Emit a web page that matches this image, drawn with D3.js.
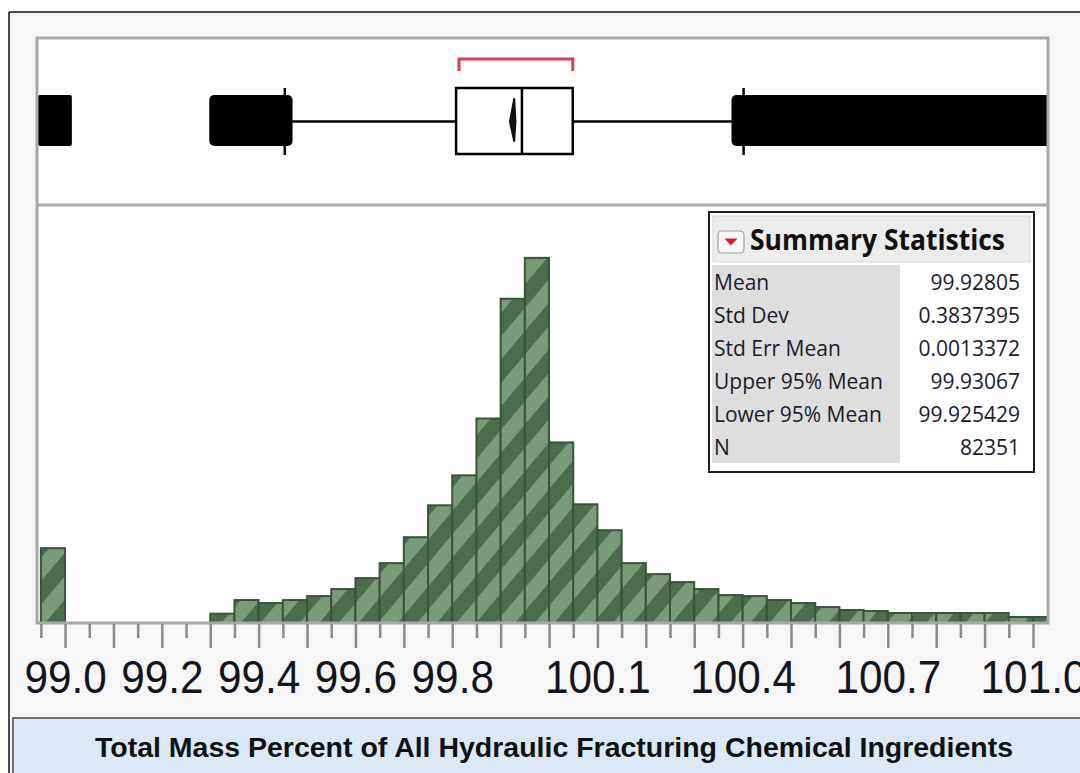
<!DOCTYPE html>
<html>
<head>
<meta charset="utf-8">
<script src="https://cdn.jsdelivr.net/npm/d3@7"></script>
<style>
  html, body { margin: 0; padding: 0; background: #ffffff; }
  svg { display: block; }
</style>
</head>
<body>
<svg id="chart" width="1080" height="773"></svg>
<script>
// Histogram bins (lower edge, width 0.05) and their counts
const binLower = [98.95, 99.30, 99.35, 99.40, 99.45, 99.50, 99.55, 99.60, 99.65, 99.70,
                  99.75, 99.80, 99.85, 99.90, 99.95, 100.00, 100.05, 100.10, 100.15, 100.20,
                  100.25, 100.30, 100.35, 100.40, 100.45, 100.50, 100.55, 100.60, 100.65, 100.70,
                  100.75, 100.80, 100.85, 100.90, 100.95, 101.00];
const binCounts = [2250, 280, 690, 600, 690, 810, 1020, 1350, 1800, 2580,
                   3540, 4440, 6150, 9750, 10980, 5430, 3570, 2790, 1800, 1470,
                   1230, 1020, 840, 810, 690, 600, 480, 390, 360, 300,
                   300, 300, 300, 300, 180, 180];
const binWidth = 0.05;

// Outlier box plot summary
const quartiles = [99.808, 99.944, 100.049];       // Q1, median, Q3
const whiskers = [99.454, 100.402];
const shortestHalf = [99.814, 100.049];
const outlierRanges = [[98.944, 99.014], [99.298, 99.470], [100.377, 101.04]];

// Summary statistics table
const statNames = ["Mean", "Std Dev", "Std Err Mean", "Upper 95% Mean", "Lower 95% Mean", "N"];
const statValues = ["99.92805", "0.3837395", "0.0013372", "99.93067", "99.925429", "82351"];
const meanValue = 99.92805, upper95 = 99.93067, lower95 = 99.925429;

// Axis ticks
const majorTicks = [99.0, 99.1, 99.2, 99.3, 99.4, 99.5, 99.6, 99.7, 99.8, 99.9, 100.0,
                    100.1, 100.2, 100.3, 100.4, 100.5, 100.6, 100.7, 100.8, 100.9, 101.0];
const minorTicks = [98.95, 99.05, 99.15, 99.25, 99.35, 99.45, 99.55, 99.65, 99.75, 99.85, 99.95,
                    100.05, 100.15, 100.25, 100.35, 100.45, 100.55, 100.65, 100.75, 100.85, 100.95];
const tickLabels = ["99.0", "99.2", "99.4", "99.6", "99.8", "100.1", "100.4", "100.7", "101.0"];

const title = "Total Mass Percent of All Hydraulic Fracturing Chemical Ingredients";

// ---- layout ----
const frame = { left: 37, right: 1048, top: 38, bottom: 623 };
const splitY = 205;
const svg = d3.select("#chart");

const x = d3.scaleLinear().domain([98.942, 101.031]).range([frame.left, frame.right]);
const y = d3.scaleLinear().domain([0, 12570]).range([frame.bottom, splitY]);

const defs = svg.append("defs");
const pat = defs.append("pattern")
  .attr("id", "stripes")
  .attr("patternUnits", "userSpaceOnUse")
  .attr("width", 30).attr("height", 30)
  .attr("patternTransform", "rotate(-50)");
pat.append("rect").attr("width", 30).attr("height", 30).attr("fill", "#4d6b4d");
pat.append("rect").attr("width", 30).attr("height", 15).attr("fill", "#7a9a79");

defs.append("clipPath").attr("id", "plotClip")
  .append("rect")
  .attr("x", frame.left).attr("y", frame.top)
  .attr("width", frame.right - frame.left).attr("height", frame.bottom - frame.top);

// window background and outer border
svg.append("rect").attr("x", 10).attr("y", 13).attr("width", 1070).attr("height", 760).attr("fill", "#f6f6f6");
svg.append("line").attr("x1", 9).attr("x2", 1080).attr("y1", 12).attr("y2", 12).attr("stroke", "#111").attr("stroke-width", 1.5);
svg.append("line").attr("x1", 9).attr("x2", 9).attr("y1", 12).attr("y2", 773).attr("stroke", "#111").attr("stroke-width", 1.5);

// plot area
svg.append("rect")
  .attr("x", frame.left).attr("y", frame.top)
  .attr("width", frame.right - frame.left).attr("height", frame.bottom - frame.top)
  .attr("fill", "#ffffff");

// ---- histogram bars ----
svg.append("g").attr("clip-path", "url(#plotClip)")
  .selectAll("rect")
  .data(binLower.map((lo, i) => ({ lo, count: binCounts[i] })))
  .join("rect")
  .attr("x", d => x(d.lo))
  .attr("width", d => x(d.lo + binWidth) - x(d.lo))
  .attr("y", d => y(d.count))
  .attr("height", d => y(0) - y(d.count))
  .attr("fill", "url(#stripes)")
  .attr("stroke", "#3b523b")
  .attr("stroke-width", 2);

// ---- outlier box plot ----
const bp = svg.append("g").attr("clip-path", "url(#plotClip)");
const boxTop = 88, boxBot = 154, boxMid = 121.5;

bp.selectAll("rect.outliers")
  .data(outlierRanges)
  .join("rect")
  .attr("class", "outliers")
  .attr("x", d => x(d[0]))
  .attr("width", d => x(d[1]) - x(d[0]))
  .attr("y", 95).attr("height", 51)
  .attr("rx", (d, i) => i === 0 ? 2 : 5)
  .attr("fill", "#000");

bp.append("line")
  .attr("x1", x(whiskers[0])).attr("x2", x(quartiles[0]))
  .attr("y1", boxMid).attr("y2", boxMid)
  .attr("stroke", "#000").attr("stroke-width", 2.5);
bp.append("line")
  .attr("x1", x(quartiles[2])).attr("x2", x(whiskers[1]))
  .attr("y1", boxMid).attr("y2", boxMid)
  .attr("stroke", "#000").attr("stroke-width", 2.5);
bp.selectAll("line.wend")
  .data(whiskers)
  .join("line")
  .attr("class", "wend")
  .attr("x1", d => x(d)).attr("x2", d => x(d))
  .attr("y1", boxTop).attr("y2", boxBot + 1)
  .attr("stroke", "#000").attr("stroke-width", 2.5);

bp.append("rect")
  .attr("x", x(quartiles[0])).attr("width", x(quartiles[2]) - x(quartiles[0]))
  .attr("y", boxTop).attr("height", boxBot - boxTop)
  .attr("fill", "#fff").attr("stroke", "#000").attr("stroke-width", 2.5);
bp.append("line")
  .attr("x1", x(quartiles[1])).attr("x2", x(quartiles[1]))
  .attr("y1", boxTop).attr("y2", boxBot)
  .attr("stroke", "#000").attr("stroke-width", 2.5);

// mean confidence diamond
bp.append("polygon")
  .attr("points", [[x(lower95) - 3, boxMid], [x(meanValue), 99], [x(upper95), boxMid], [x(meanValue), 141]]
    .map(p => p.join(",")).join(" "))
  .attr("fill", "#111").attr("stroke", "#111").attr("stroke-width", 2).attr("stroke-linejoin", "round");

// shortest half bracket
bp.append("path")
  .attr("d", `M${x(shortestHalf[0])},71 V59 H${x(shortestHalf[1])} V71`)
  .attr("fill", "none").attr("stroke", "#e23a50").attr("stroke-width", 3);

// panel frame and divider
svg.append("rect")
  .attr("x", frame.left).attr("y", frame.top)
  .attr("width", frame.right - frame.left).attr("height", frame.bottom - frame.top)
  .attr("fill", "none").attr("stroke", "#a8a8a8").attr("stroke-width", 3);
svg.append("line")
  .attr("x1", frame.left).attr("x2", frame.right)
  .attr("y1", splitY).attr("y2", splitY)
  .attr("stroke", "#a8a8a8").attr("stroke-width", 3);

// ---- x axis ----
const minorAxis = d3.axisBottom(x).tickValues(minorTicks).tickSize(14).tickFormat("");
const majorAxis = d3.axisBottom(x).tickValues(majorTicks).tickSize(24)
  .tickFormat(d => tickLabels.includes(d.toFixed(1)) ? d.toFixed(1) : "");

[minorAxis, majorAxis].forEach(ax => {
  const g = svg.append("g").attr("transform", `translate(0,${frame.bottom + 1})`).call(ax);
  g.select(".domain").remove();
  g.selectAll(".tick line").attr("stroke", "#8a8a8a").attr("stroke-width", 2.5);
  g.selectAll(".tick text")
    .attr("y", 69).attr("dy", 0)
    .attr("transform", "scale(0.92,1)")
    .attr("fill", "#141420")
    .style("font-family", "'Liberation Sans', Arial, sans-serif")
    .style("font-size", "46px");
});

// ---- summary statistics panel ----
const st = svg.append("g");
const sx = 709, sy = 212, sw = 325, sh = 260;
st.append("rect").attr("x", sx).attr("y", sy).attr("width", sw).attr("height", sh)
  .attr("fill", "#ffffff").attr("stroke", "#1e1e1e").attr("stroke-width", 2);
st.append("rect").attr("x", sx + 4).attr("y", sy + 4).attr("width", sw - 8).attr("height", 46)
  .attr("fill", "#ececec").attr("stroke", "#d6d6d6").attr("stroke-width", 1);
st.append("rect").attr("x", 718).attr("y", 231).attr("width", 26).attr("height", 22).attr("rx", 4)
  .attr("fill", "#f6f6f6").attr("stroke", "#a0a0a0").attr("stroke-width", 1.2);
st.append("path").attr("d", "M724.5,238.5 L737.5,238.5 L731,245.5 Z").attr("fill", "#d3202c");
st.append("text")
  .attr("x", 750).attr("y", 250)
  .attr("textLength", 255).attr("lengthAdjust", "spacingAndGlyphs")
  .style("font-family", "'Open Sans', 'Noto Sans', sans-serif")
  .style("font-weight", "700").style("font-size", "28px")
  .attr("fill", "#111")
  .text("Summary Statistics");

st.append("rect").attr("x", sx + 3).attr("y", 265).attr("width", 188).attr("height", 198).attr("fill", "#dedede");

const rowY = d3.scaleBand().domain(statNames).range([266, 464]);
st.selectAll("text.sname")
  .data(statNames)
  .join("text")
  .attr("class", "sname")
  .attr("x", 714)
  .attr("y", d => rowY(d) + 24)
  .style("font-family", "'Open Sans', 'Noto Sans', sans-serif")
  .style("font-size", "21px")
  .attr("fill", "#1b1b2b")
  .text(d => d);
st.selectAll("text.sval")
  .data(statValues)
  .join("text")
  .attr("class", "sval")
  .attr("x", 1020)
  .attr("y", (d, i) => rowY(statNames[i]) + 24)
  .attr("text-anchor", "end")
  .style("font-family", "'Open Sans', 'Noto Sans', sans-serif")
  .style("font-size", "21px")
  .attr("fill", "#1b1b2b")
  .text(d => d);

// ---- column title bar ----
svg.append("rect").attr("x", 13).attr("y", 718).attr("width", 1075).attr("height", 60)
  .attr("fill", "#dce8f5").attr("stroke", "#4a4a4a").attr("stroke-width", 1.5);
svg.append("text")
  .attr("x", 554).attr("y", 757)
  .attr("text-anchor", "middle")
  .attr("textLength", 918).attr("lengthAdjust", "spacingAndGlyphs")
  .style("font-family", "'Liberation Sans', Arial, sans-serif")
  .style("font-weight", "700").style("font-size", "27px")
  .attr("fill", "#111")
  .text(title);
</script>
</body>
</html>
